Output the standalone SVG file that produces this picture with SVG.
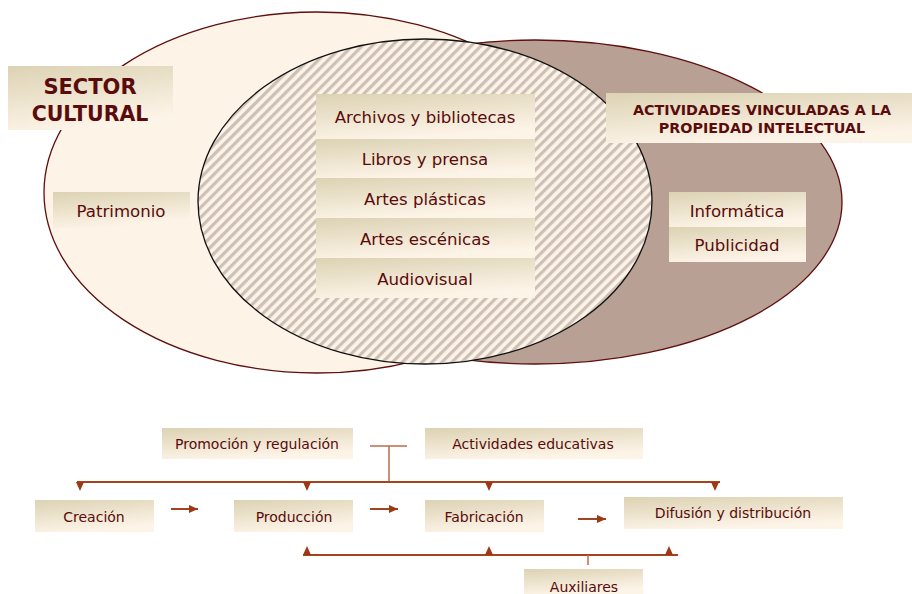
<svg xmlns="http://www.w3.org/2000/svg" width="912" height="594" viewBox="0 0 912 594">
<defs>
<linearGradient id="box" x1="0" y1="0" x2="0.35" y2="1">
<stop offset="0" stop-color="#dcd2b3"/>
<stop offset="1" stop-color="#fdf4e8"/>
</linearGradient>
<pattern id="hatch" width="7" height="10" patternUnits="userSpaceOnUse" patternTransform="rotate(45)">
<rect width="7" height="10" fill="#fdf3e7"/>
<rect width="3.2" height="10" fill="#cdc0b6"/>
</pattern>
<marker id="arr" markerWidth="10" markerHeight="10" refX="9" refY="5" orient="auto" markerUnits="userSpaceOnUse">
<path d="M0,1 L9,5 L0,9 Z" fill="#9c3813"/>
</marker>
</defs>
<style>
.bx{fill:url(#box)}
.t{font-family:"DejaVu Sans",Verdana,sans-serif;fill:#5a0b0b;text-anchor:middle}
.l{font-size:16.6px}
.s{font-size:14px}
.b{font-weight:bold}
.ln{stroke:#a4431c;stroke-width:2;fill:none}
.lv{stroke:#bf6b47;stroke-width:1.5;fill:none}
.tri{fill:#9c3813}
</style>
<rect width="912" height="594" fill="#ffffff"/>
<g id="venn">
<ellipse id="sector-cultural-ellipse" cx="317" cy="192.5" rx="273" ry="180.5" fill="#fdf3e7" stroke="#5e0f0f" stroke-width="1.3"/>
<ellipse id="propiedad-ellipse" cx="535" cy="202" rx="307" ry="162" fill="#b8a094" stroke="#5e0f0f" stroke-width="1.3"/>
<ellipse id="interseccion-ellipse" cx="425" cy="201.5" rx="227" ry="162.5" fill="url(#hatch)" stroke="#111" stroke-width="1.3"/>
</g>
<g id="sector-cultural">
<rect class="bx" x="8" y="66" width="165" height="64"/>
<text class="t b" x="90" y="94" font-size="21">SECTOR</text>
<text class="t b" x="90" y="121" font-size="20.5">CULTURAL</text>
</g>
<g id="patrimonio">
<rect class="bx" x="53" y="192" width="137" height="36"/>
<text class="t l" x="121" y="217">Patrimonio</text>
</g>
<g id="archivos">
<rect class="bx" x="316" y="94" width="219" height="45"/>
<text class="t l" x="425" y="123">Archivos y bibliotecas</text>
</g>
<g id="libros">
<rect class="bx" x="316" y="139" width="219" height="39"/>
<text class="t l" x="425" y="165">Libros y prensa</text>
</g>
<g id="artes-plasticas">
<rect class="bx" x="316" y="178" width="219" height="40"/>
<text class="t l" x="425" y="205">Artes plásticas</text>
</g>
<g id="artes-escenicas">
<rect class="bx" x="316" y="218" width="219" height="40"/>
<text class="t l" x="425" y="245">Artes escénicas</text>
</g>
<g id="audiovisual">
<rect class="bx" x="316" y="258" width="219" height="40"/>
<text class="t l" x="425" y="285">Audiovisual</text>
</g>
<g id="actividades-pi">
<rect class="bx" x="606" y="93" width="306" height="50"/>
<text class="t b" x="762" y="115" font-size="14.3">ACTIVIDADES VINCULADAS A LA</text>
<text class="t b" x="762" y="133" font-size="14.3">PROPIEDAD INTELECTUAL</text>
</g>
<g id="informatica">
<rect class="bx" x="669" y="192" width="137" height="35"/>
<text class="t l" x="737" y="217">Informática</text>
</g>
<g id="publicidad">
<rect class="bx" x="669" y="227" width="137" height="35"/>
<text class="t l" x="737" y="251">Publicidad</text>
</g>
<g id="promocion">
<rect class="bx" x="162" y="428" width="191" height="31"/>
<text class="t s" x="257" y="449">Promoción y regulación</text>
</g>
<g id="educativas">
<rect class="bx" x="425" y="428" width="218" height="31"/>
<text class="t s" x="533" y="449">Actividades educativas</text>
</g>
<g id="creacion">
<rect class="bx" x="35" y="500" width="119" height="32"/>
<text class="t s" x="94" y="522">Creación</text>
</g>
<g id="produccion">
<rect class="bx" x="234" y="500" width="119" height="32"/>
<text class="t s" x="294" y="522">Producción</text>
</g>
<g id="fabricacion">
<rect class="bx" x="425" y="500" width="119" height="32"/>
<text class="t s" x="484" y="522">Fabricación</text>
</g>
<g id="difusion">
<rect class="bx" x="624" y="497" width="219" height="32"/>
<text class="t s" x="733" y="518">Difusión y distribución</text>
</g>
<g id="auxiliares">
<rect class="bx" x="524" y="569" width="119" height="25"/>
<text class="t s" x="584" y="592">Auxiliares</text>
</g>
<g id="connectors">
<path class="lv" d="M370,446 H407 M389,446 V482"/>
<path class="ln" d="M77,482 H720"/>
<polygon class="tri" points="76,482 84,482 80,491"/>
<polygon class="tri" points="303,482 311,482 307,491"/>
<polygon class="tri" points="485,482 493,482 489,491"/>
<polygon class="tri" points="711,482 719,482 715,491"/>
<path class="ln" d="M171,509 H198" marker-end="url(#arr)"/>
<path class="ln" d="M370,509 H398" marker-end="url(#arr)"/>
<path class="ln" d="M578,519 H606" marker-end="url(#arr)"/>
<path class="ln" d="M303,555 H678"/>
<polygon class="tri" points="303,555 311,555 307,546"/>
<polygon class="tri" points="485,555 493,555 489,546"/>
<polygon class="tri" points="665,555 673,555 669,546"/>
<path class="lv" d="M588,555 V565"/>
</g>
</svg>
